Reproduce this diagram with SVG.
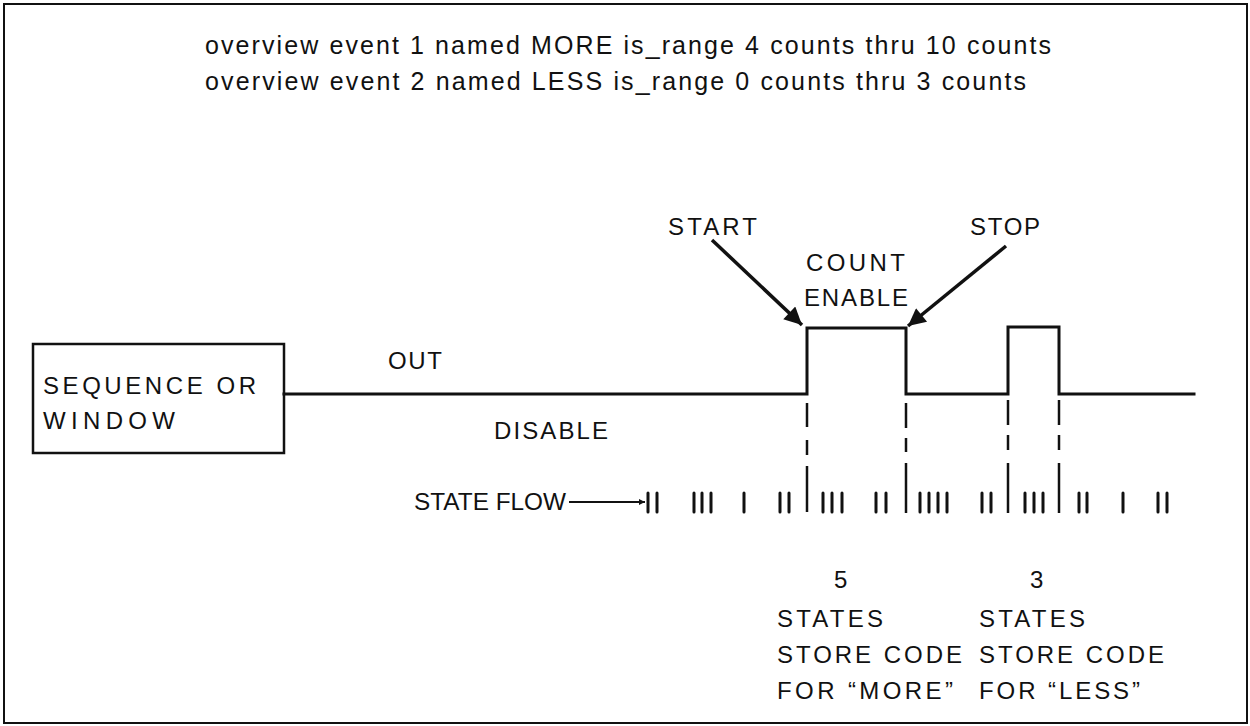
<svg xmlns="http://www.w3.org/2000/svg" width="1250" height="726" viewBox="0 0 1250 726">
<style>
text{font-family:"Liberation Sans",Arial,sans-serif;font-size:24px;fill:#111}
.hdr{font-size:25px}
.w{fill:none;stroke:#111;stroke-width:3;stroke-linecap:square}
.t{stroke:#111;stroke-width:3;stroke-linecap:round}
.d{stroke:#111;stroke-width:2.5}
</style>
<defs>
<marker id="ah" viewBox="0 0 10 10" refX="10" refY="5" markerWidth="7" markerHeight="5" markerUnits="strokeWidth" orient="auto">
<path d="M0,0 L10,5 L0,10 Z" fill="#111"/>
</marker>
<marker id="ah2" viewBox="0 0 10 10" refX="10" refY="5" markerWidth="11" markerHeight="6" orient="auto" markerUnits="userSpaceOnUse">
<path d="M0,0 L10,5 L0,10 Z" fill="#111"/>
</marker>
</defs>
<rect x="0" y="0" width="1250" height="726" fill="#fff"/>
<rect x="4" y="4" width="1243" height="719" fill="none" stroke="#111" stroke-width="2"/>
<g id="header">
<text class="hdr" x="205" y="54" textLength="846" lengthAdjust="spacing">overview event 1 named MORE is_range 4 counts thru 10 counts</text>
<text class="hdr" x="205" y="90" textLength="821" lengthAdjust="spacing">overview event 2 named LESS is_range 0 counts thru 3 counts</text>
</g>
<g id="source">
<rect x="33" y="344" width="251" height="109" fill="none" stroke="#111" stroke-width="2.5"/>
<text x="43" y="394" textLength="213" lengthAdjust="spacing">SEQUENCE OR</text>
<text x="43" y="429" textLength="132" lengthAdjust="spacing">WINDOW</text>
</g>
<g id="labels">
<text x="388" y="369" textLength="54" lengthAdjust="spacing">OUT</text>
<text x="494" y="439" textLength="114" lengthAdjust="spacing">DISABLE</text>
<text x="668" y="235" textLength="89" lengthAdjust="spacing">START</text>
<text x="970" y="235" textLength="70" lengthAdjust="spacing">STOP</text>
<text x="806" y="271" textLength="99" lengthAdjust="spacing">COUNT</text>
<text x="804" y="306" textLength="104" lengthAdjust="spacing">ENABLE</text>
<text x="414" y="510" textLength="152" lengthAdjust="spacingAndGlyphs">STATE FLOW</text>
</g>
<g id="results">
<text x="834" y="588">5</text>
<text x="1030" y="588">3</text>
<text x="777" y="627" textLength="106" lengthAdjust="spacing">STATES</text>
<text x="777" y="663" textLength="185" lengthAdjust="spacing">STORE CODE</text>
<text x="777" y="699" textLength="176" lengthAdjust="spacing">FOR “MORE”</text>
<text x="979" y="627" textLength="106" lengthAdjust="spacing">STATES</text>
<text x="979" y="663" textLength="185" lengthAdjust="spacing">STORE CODE</text>
<text x="979" y="699" textLength="161" lengthAdjust="spacing">FOR “LESS”</text>
</g>
<g id="connectors">
<path class="w" d="M284,394 H807 V328 H906 V394 H1008 V327 H1059 V394 H1194"/>
<line x1="712" y1="240" x2="802" y2="325" stroke="#111" stroke-width="3.5" marker-end="url(#ah)"/>
<line x1="1006" y1="246" x2="908" y2="326" stroke="#111" stroke-width="3.5" marker-end="url(#ah)"/>
<line x1="569" y1="502" x2="645" y2="502" stroke="#111" stroke-width="2" marker-end="url(#ah2)"/>
<g class="d">
<line x1="807" y1="403" x2="807" y2="427"/><line x1="807" y1="440" x2="807" y2="455"/><line x1="807" y1="466" x2="807" y2="512"/>
<line x1="906" y1="403" x2="906" y2="428"/><line x1="906" y1="438" x2="906" y2="452"/><line x1="906" y1="463" x2="906" y2="513"/>
<line x1="1008" y1="400" x2="1008" y2="425"/><line x1="1008" y1="435" x2="1008" y2="450"/><line x1="1008" y1="463" x2="1008" y2="513"/>
<line x1="1059" y1="400" x2="1059" y2="425"/><line x1="1059" y1="435" x2="1059" y2="450"/><line x1="1059" y1="463" x2="1059" y2="513"/>
</g>
<g class="t">
<path d="M648,493V512M657,493V512M694,493V512M702,493V512M711,493V512M744,493V512M780,493V512M789,493V512M823,493V512M832,493V512M842,493V512M876,493V512M886,493V512M920,493V512M929,493V512M938,493V512M947,493V512M982,493V512M991,493V512M1025,493V512M1034,493V512M1043,493V512M1079,493V512M1087,493V512M1123,493V512M1158,493V512M1167,493V512"/>
</g>
</g>
</svg>
